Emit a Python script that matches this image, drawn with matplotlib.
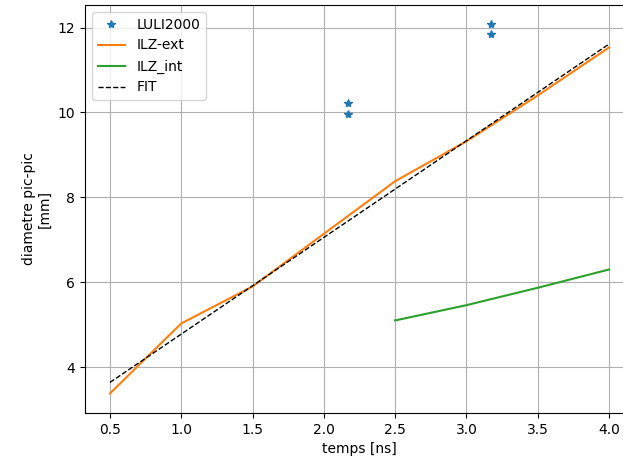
import matplotlib
matplotlib.use("Agg")
import matplotlib.pyplot as plt

luli_t = [2.17, 2.17, 3.17, 3.17]
luli_d = [10.21, 9.97, 12.09, 11.85]

ext_t = [0.5, 1.0, 1.5, 2.0, 2.5, 3.0, 3.5, 4.0]
ext_d = [3.38, 5.03, 5.90, 7.14, 8.38, 9.32, 10.40, 11.53]

int_t = [2.5, 3.0, 3.5, 4.0]
int_d = [5.10, 5.46, 5.87, 6.30]

fit_t = [0.5, 4.0]
fit_d = [3.64, 11.61]

fig = plt.figure(figsize=(6.23, 4.63), dpi=100)
# axes extends past the right edge of the figure (right spine cropped in reference)
ax = fig.add_axes([85/623, 50/463, 580/623, 408/463])
ax.plot(luli_t, luli_d, '*', color='C0', label='LULI2000')
ax.plot(ext_t, ext_d, '-', color='C1', label='ILZ-ext')
ax.plot(int_t, int_d, '-', color='C2', label='ILZ_int')
ax.plot(fit_t, fit_d, '--', color='black', linewidth=1, label='FIT')
ax.set_xlim(0.325, 0.325 + 580/142.6)
ax.set_ylim(2.92, 12.53)
ax.set_xticks([0.5, 1.0, 1.5, 2.0, 2.5, 3.0, 3.5, 4.0])
ax.set_yticks([4, 6, 8, 10, 12])
ax.grid(True)
ax.set_xlabel('temps [ns]', x=(0.5*548)/580)
ax.set_ylabel('diametre pic-pic\n[mm]')
ax.legend(loc='upper left')
fig.savefig('out.png', dpi=100)
